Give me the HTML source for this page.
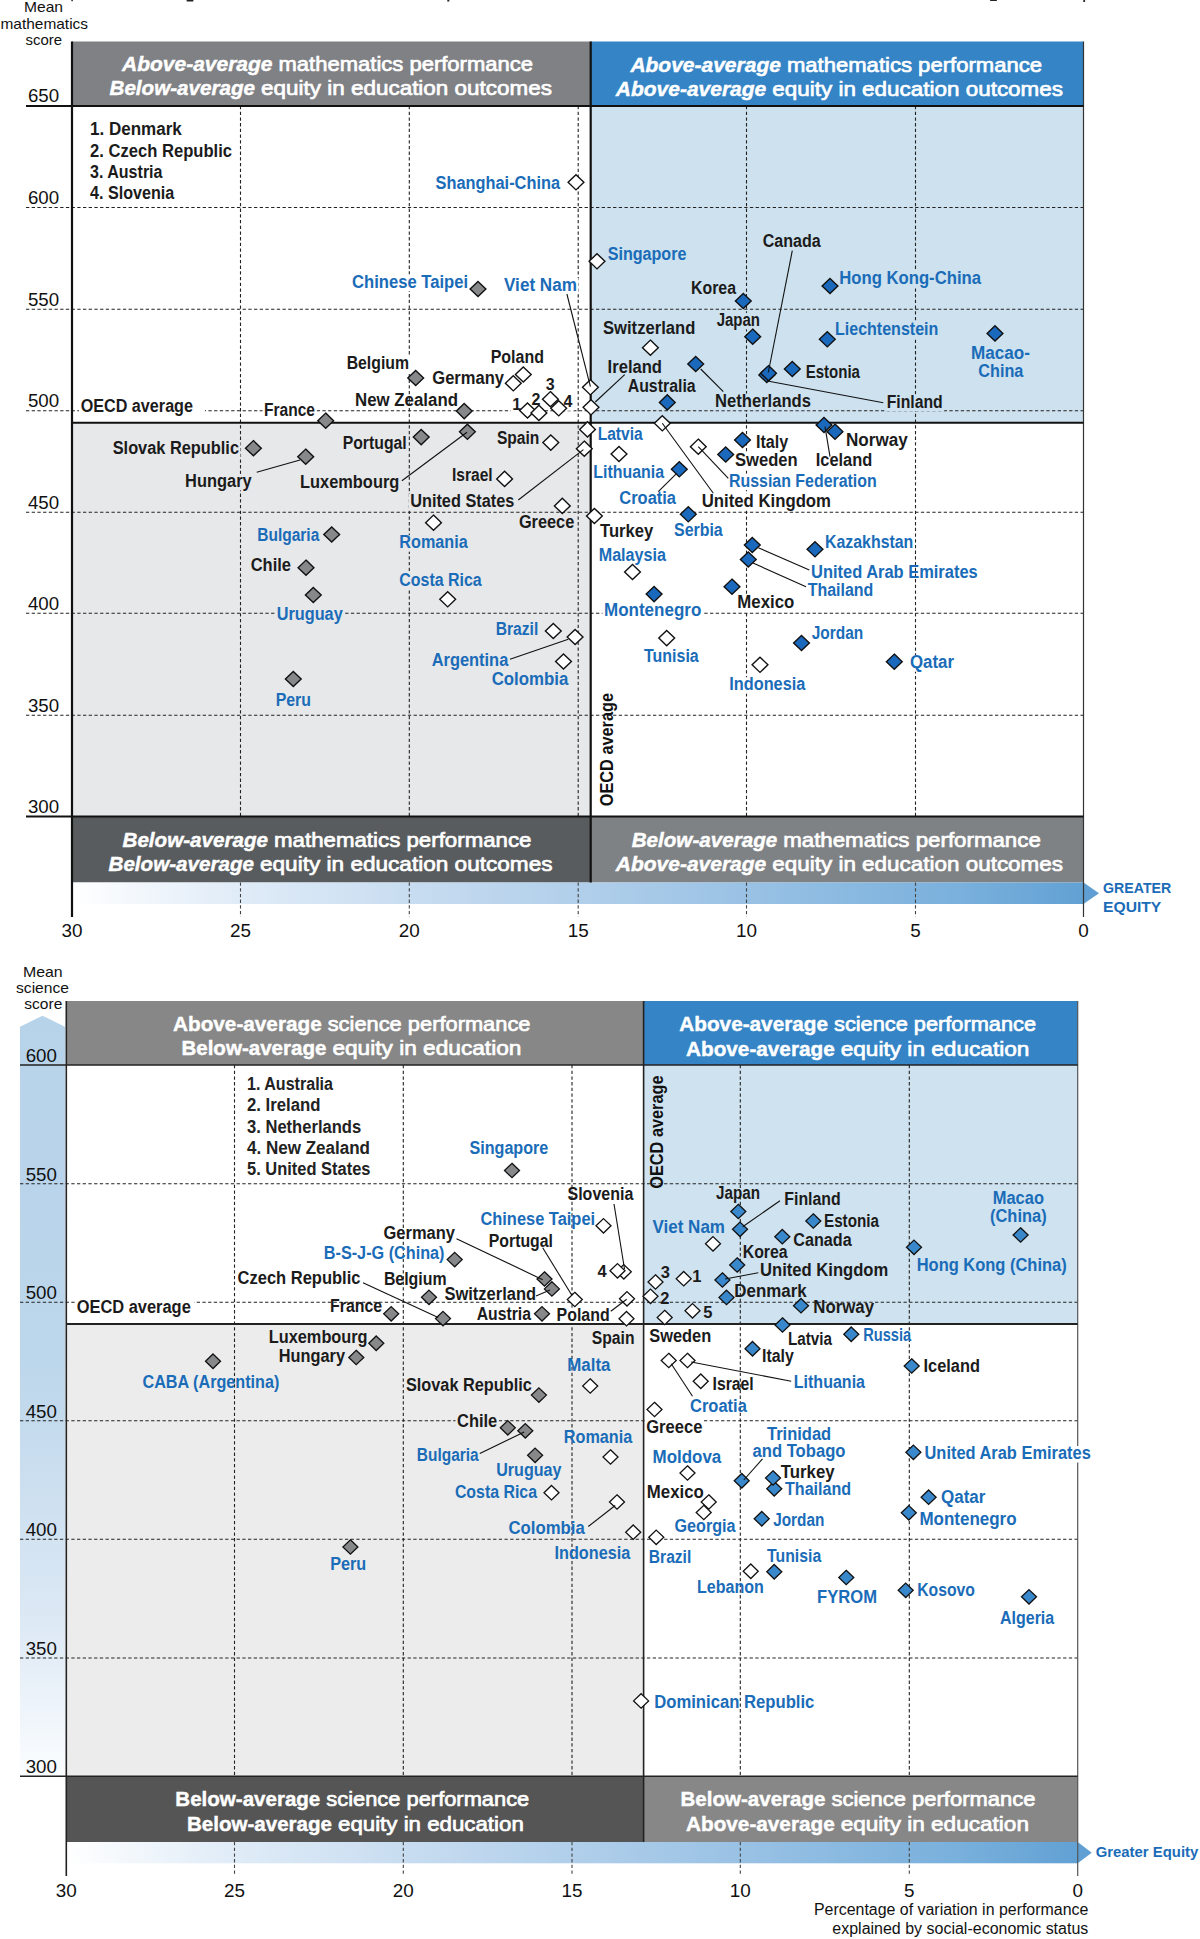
<!DOCTYPE html>
<html><head><meta charset="utf-8"><title>Mathematics and science performance vs equity in education</title>
<style>
html,body{margin:0;padding:0;background:#fff;}
body{width:1200px;height:1939px;overflow:hidden;}
svg{display:block;font-family:"Liberation Sans", sans-serif;}
</style></head><body>
<svg width="1200" height="1939" viewBox="0 0 1200 1939">
<defs>
<linearGradient id="gband" x1="0" x2="1" y1="0" y2="0">
<stop offset="0" stop-color="#ffffff"/><stop offset="0.15" stop-color="#e2edf8"/><stop offset="0.4" stop-color="#bfd7ee"/><stop offset="0.65" stop-color="#9cc3e5"/><stop offset="0.88" stop-color="#79b0dc"/><stop offset="1" stop-color="#62a1d4"/>
</linearGradient>
<linearGradient id="gband2" x1="0" x2="1" y1="0" y2="0">
<stop offset="0" stop-color="#ffffff"/><stop offset="0.15" stop-color="#e2edf8"/><stop offset="0.4" stop-color="#bfd7ee"/><stop offset="0.65" stop-color="#9cc3e5"/><stop offset="0.88" stop-color="#79b0dc"/><stop offset="1" stop-color="#62a1d4"/>
</linearGradient>
<linearGradient id="vband" x1="0" x2="0" y1="0" y2="1">
<stop offset="0" stop-color="#b7d3ea"/><stop offset="0.45" stop-color="#bcd6eb"/><stop offset="0.8" stop-color="#dde9f5"/><stop offset="1" stop-color="#fbfdff"/>
</linearGradient>
</defs>
<rect width="1200" height="1939" fill="#fff"/>
<rect x="72.0" y="106.0" width="518.7" height="316.7" fill="#ffffff"/>
<rect x="590.7" y="106.0" width="492.8" height="316.7" fill="#cde1ee"/>
<rect x="72.0" y="422.7" width="518.7" height="393.8" fill="#e7e8ea"/>
<rect x="590.7" y="422.7" width="492.8" height="393.8" fill="#ffffff"/>
<rect x="72.0" y="41.5" width="518.7" height="64.5" fill="#808185"/>
<rect x="590.7" y="41.5" width="492.8" height="64.5" fill="#3484c6"/>
<rect x="72.0" y="816.5" width="518.7" height="66.0" fill="#595c5e"/>
<rect x="590.7" y="816.5" width="492.8" height="66.0" fill="#7f8285"/>
<rect x="72.0" y="882.5" width="1011.5" height="21.5" fill="url(#gband)"/>
<path d="M1083.5 882.5L1099.0 893.25L1083.5 904.0Z" fill="#5f9fd3"/>
<line x1="26.0" y1="207.5" x2="1083.5" y2="207.5" stroke="#222" stroke-width="1.1" stroke-dasharray="3.3 2.4"/>
<line x1="26.0" y1="309.3" x2="1083.5" y2="309.3" stroke="#222" stroke-width="1.1" stroke-dasharray="3.3 2.4"/>
<line x1="26.0" y1="410.8" x2="1083.5" y2="410.8" stroke="#222" stroke-width="1.1" stroke-dasharray="3.3 2.4"/>
<line x1="26.0" y1="512.3" x2="1083.5" y2="512.3" stroke="#222" stroke-width="1.1" stroke-dasharray="3.3 2.4"/>
<line x1="26.0" y1="613.3" x2="1083.5" y2="613.3" stroke="#222" stroke-width="1.1" stroke-dasharray="3.3 2.4"/>
<line x1="26.0" y1="715.3" x2="1083.5" y2="715.3" stroke="#222" stroke-width="1.1" stroke-dasharray="3.3 2.4"/>
<line x1="240.5" y1="106.0" x2="240.5" y2="816.5" stroke="#222" stroke-width="1.1" stroke-dasharray="3.3 2.4"/>
<line x1="240.5" y1="882.5" x2="240.5" y2="917.0" stroke="#444" stroke-width="1.1" stroke-dasharray="3.3 2.4"/>
<line x1="409.3" y1="106.0" x2="409.3" y2="816.5" stroke="#222" stroke-width="1.1" stroke-dasharray="3.3 2.4"/>
<line x1="409.3" y1="882.5" x2="409.3" y2="917.0" stroke="#444" stroke-width="1.1" stroke-dasharray="3.3 2.4"/>
<line x1="578.2" y1="106.0" x2="578.2" y2="816.5" stroke="#222" stroke-width="1.1" stroke-dasharray="3.3 2.4"/>
<line x1="578.2" y1="882.5" x2="578.2" y2="917.0" stroke="#444" stroke-width="1.1" stroke-dasharray="3.3 2.4"/>
<line x1="746.5" y1="106.0" x2="746.5" y2="816.5" stroke="#222" stroke-width="1.1" stroke-dasharray="3.3 2.4"/>
<line x1="746.5" y1="882.5" x2="746.5" y2="917.0" stroke="#444" stroke-width="1.1" stroke-dasharray="3.3 2.4"/>
<line x1="915.5" y1="106.0" x2="915.5" y2="816.5" stroke="#222" stroke-width="1.1" stroke-dasharray="3.3 2.4"/>
<line x1="915.5" y1="882.5" x2="915.5" y2="917.0" stroke="#444" stroke-width="1.1" stroke-dasharray="3.3 2.4"/>
<line x1="1083.5" y1="41.5" x2="1083.5" y2="917.0" stroke="#333" stroke-width="1.2"/>
<rect x="434.1" y="175.5" width="127.4" height="16.5" fill="#ffffff"/>
<rect x="606.2" y="246.6" width="81.7" height="16.5" fill="#cde1ee"/>
<rect x="350.5" y="274.6" width="119.0" height="16.5" fill="#ffffff"/>
<rect x="502.5" y="277.9" width="76.0" height="16.5" fill="#ffffff"/>
<rect x="601.5" y="321.2" width="95.3" height="16.5" fill="#cde1ee"/>
<rect x="345.2" y="355.9" width="65.3" height="16.5" fill="#ffffff"/>
<rect x="489.2" y="349.9" width="56.3" height="16.5" fill="#ffffff"/>
<rect x="430.8" y="371.2" width="74.7" height="16.5" fill="#ffffff"/>
<rect x="606.1" y="359.9" width="57.4" height="16.5" fill="#cde1ee"/>
<rect x="626.2" y="379.2" width="71.0" height="16.5" fill="#cde1ee"/>
<rect x="262.5" y="402.9" width="54.0" height="16.5" fill="#ffffff"/>
<rect x="510.8" y="396.8" width="12.0" height="16.5" fill="#ffffff"/>
<rect x="529.9" y="391.8" width="12.0" height="16.5" fill="#ffffff"/>
<rect x="544.3" y="377.4" width="12.0" height="16.5" fill="#ffffff"/>
<rect x="561.9" y="394.2" width="12.0" height="16.5" fill="#ffffff"/>
<rect x="761.2" y="233.6" width="61.0" height="16.5" fill="#cde1ee"/>
<rect x="689.5" y="280.9" width="48.0" height="16.5" fill="#cde1ee"/>
<rect x="837.8" y="270.6" width="144.7" height="16.5" fill="#cde1ee"/>
<rect x="715.2" y="312.9" width="46.3" height="16.5" fill="#cde1ee"/>
<rect x="833.5" y="321.9" width="106.3" height="16.5" fill="#cde1ee"/>
<rect x="969.5" y="346.2" width="62.0" height="16.5" fill="#cde1ee"/>
<rect x="976.8" y="363.6" width="48.0" height="16.5" fill="#cde1ee"/>
<rect x="804.2" y="365.2" width="57.3" height="16.5" fill="#cde1ee"/>
<rect x="713.5" y="393.6" width="99.0" height="16.5" fill="#cde1ee"/>
<rect x="885.2" y="394.6" width="59.0" height="16.5" fill="#cde1ee"/>
<rect x="111.2" y="440.6" width="129.3" height="16.5" fill="#e7e8ea"/>
<rect x="183.5" y="473.9" width="69.7" height="16.5" fill="#e7e8ea"/>
<rect x="341.2" y="436.2" width="67.0" height="16.5" fill="#e7e8ea"/>
<rect x="298.5" y="474.6" width="102.3" height="16.5" fill="#e7e8ea"/>
<rect x="495.4" y="431.4" width="45.5" height="16.5" fill="#e7e8ea"/>
<rect x="450.5" y="468.1" width="43.7" height="16.5" fill="#e7e8ea"/>
<rect x="408.7" y="493.8" width="107.1" height="16.5" fill="#e7e8ea"/>
<rect x="517.4" y="514.5" width="58.4" height="16.5" fill="#e7e8ea"/>
<rect x="596.2" y="427.2" width="48.0" height="16.5" fill="#ffffff"/>
<rect x="591.8" y="464.6" width="73.7" height="16.5" fill="#ffffff"/>
<rect x="617.8" y="491.2" width="59.7" height="16.5" fill="#ffffff"/>
<rect x="754.5" y="434.6" width="35.3" height="16.5" fill="#ffffff"/>
<rect x="733.5" y="452.9" width="65.7" height="16.5" fill="#ffffff"/>
<rect x="844.5" y="432.9" width="64.7" height="16.5" fill="#ffffff"/>
<rect x="814.2" y="452.9" width="59.6" height="16.5" fill="#ffffff"/>
<rect x="727.5" y="473.6" width="150.7" height="16.5" fill="#ffffff"/>
<rect x="700.2" y="493.6" width="132.3" height="16.5" fill="#ffffff"/>
<rect x="598.5" y="523.9" width="56.3" height="16.5" fill="#ffffff"/>
<rect x="672.5" y="522.9" width="51.7" height="16.5" fill="#ffffff"/>
<rect x="597.2" y="547.9" width="70.3" height="16.5" fill="#ffffff"/>
<rect x="823.5" y="534.6" width="91.3" height="16.5" fill="#ffffff"/>
<rect x="806.2" y="582.9" width="68.6" height="16.5" fill="#ffffff"/>
<rect x="735.8" y="594.6" width="60.0" height="16.5" fill="#ffffff"/>
<rect x="602.5" y="603.1" width="100.3" height="16.5" fill="#ffffff"/>
<rect x="810.2" y="626.2" width="54.6" height="16.5" fill="#ffffff"/>
<rect x="908.5" y="655.2" width="47.0" height="16.5" fill="#ffffff"/>
<rect x="642.5" y="648.7" width="57.7" height="16.5" fill="#ffffff"/>
<rect x="727.8" y="677.2" width="79.0" height="16.5" fill="#ffffff"/>
<rect x="255.8" y="527.6" width="65.0" height="16.5" fill="#e7e8ea"/>
<rect x="249.2" y="557.9" width="43.3" height="16.5" fill="#e7e8ea"/>
<rect x="275.2" y="606.9" width="69.0" height="16.5" fill="#e7e8ea"/>
<rect x="274.2" y="692.9" width="38.3" height="16.5" fill="#e7e8ea"/>
<rect x="397.8" y="535.2" width="71.4" height="16.5" fill="#e7e8ea"/>
<rect x="397.8" y="572.9" width="85.4" height="16.5" fill="#e7e8ea"/>
<rect x="494.2" y="622.2" width="45.6" height="16.5" fill="#e7e8ea"/>
<rect x="430.2" y="652.9" width="79.6" height="16.5" fill="#e7e8ea"/>
<rect x="490.2" y="672.2" width="79.6" height="16.5" fill="#e7e8ea"/>
<rect x="79.0" y="397.0" width="126.0" height="17.5" fill="#ffffff"/>
<line x1="26.0" y1="106.0" x2="1083.5" y2="106.0" stroke="#111" stroke-width="2"/>
<line x1="26.0" y1="816.5" x2="1083.5" y2="816.5" stroke="#111" stroke-width="2"/>
<line x1="72.0" y1="422.7" x2="1083.5" y2="422.7" stroke="#111" stroke-width="2"/>
<line x1="590.7" y1="41.5" x2="590.7" y2="882.5" stroke="#111" stroke-width="2.2"/>
<line x1="72.0" y1="41.5" x2="72.0" y2="917.0" stroke="#111" stroke-width="2.2"/>
<path d="M576.0 174.7L583.9 182.3L576.0 189.9L568.1 182.3Z" fill="#ffffff" stroke="#111" stroke-width="1.4"/>
<path d="M597.0 253.7L604.9 261.3L597.0 268.9L589.1 261.3Z" fill="#ffffff" stroke="#111" stroke-width="1.4"/>
<path d="M478.0 281.4L485.9 289.0L478.0 296.6L470.1 289.0Z" fill="#86888a" stroke="#111" stroke-width="1.4"/>
<path d="M590.4 379.7L598.3 387.3L590.4 394.9L582.5 387.3Z" fill="#ffffff" stroke="#111" stroke-width="1.4"/>
<path d="M591.0 399.7L598.9 407.3L591.0 414.9L583.1 407.3Z" fill="#ffffff" stroke="#111" stroke-width="1.4"/>
<path d="M650.4 340.1L658.3 347.7L650.4 355.3L642.5 347.7Z" fill="#ffffff" stroke="#111" stroke-width="1.4"/>
<path d="M415.7 370.4L423.6 378.0L415.7 385.6L407.8 378.0Z" fill="#86888a" stroke="#111" stroke-width="1.4"/>
<path d="M523.3 366.9L531.2 374.5L523.3 382.1L515.4 374.5Z" fill="#ffffff" stroke="#111" stroke-width="1.4"/>
<path d="M513.3 375.7L521.2 383.3L513.3 390.9L505.4 383.3Z" fill="#ffffff" stroke="#111" stroke-width="1.4"/>
<path d="M550.4 391.6L558.3 399.2L550.4 406.8L542.5 399.2Z" fill="#ffffff" stroke="#111" stroke-width="1.4"/>
<path d="M527.5 402.9L535.4 410.5L527.5 418.1L519.6 410.5Z" fill="#ffffff" stroke="#111" stroke-width="1.4"/>
<path d="M538.9 405.3L546.8 412.9L538.9 420.5L531.0 412.9Z" fill="#ffffff" stroke="#111" stroke-width="1.4"/>
<path d="M558.7 400.7L566.6 408.3L558.7 415.9L550.8 408.3Z" fill="#ffffff" stroke="#111" stroke-width="1.4"/>
<path d="M464.2 403.5L472.1 411.1L464.2 418.7L456.4 411.1Z" fill="#86888a" stroke="#111" stroke-width="1.4"/>
<path d="M325.7 413.1L333.6 420.7L325.7 428.3L317.8 420.7Z" fill="#86888a" stroke="#111" stroke-width="1.4"/>
<path d="M667.3 394.8L675.2 402.4L667.3 410.0L659.4 402.4Z" fill="#1b69bc" stroke="#111" stroke-width="1.4"/>
<path d="M695.7 356.4L703.6 364.0L695.7 371.6L687.8 364.0Z" fill="#1b69bc" stroke="#111" stroke-width="1.4"/>
<path d="M743.3 293.4L751.2 301.0L743.3 308.6L735.4 301.0Z" fill="#1b69bc" stroke="#111" stroke-width="1.4"/>
<path d="M830.0 278.4L837.9 286.0L830.0 293.6L822.1 286.0Z" fill="#1b69bc" stroke="#111" stroke-width="1.4"/>
<path d="M752.7 329.1L760.6 336.7L752.7 344.3L744.8 336.7Z" fill="#1b69bc" stroke="#111" stroke-width="1.4"/>
<path d="M827.3 331.7L835.2 339.3L827.3 346.9L819.4 339.3Z" fill="#1b69bc" stroke="#111" stroke-width="1.4"/>
<path d="M995.0 325.8L1002.9 333.4L995.0 341.0L987.1 333.4Z" fill="#1b69bc" stroke="#111" stroke-width="1.4"/>
<path d="M766.8 367.4L774.7 375.0L766.8 382.6L758.9 375.0Z" fill="#1b69bc" stroke="#111" stroke-width="1.4"/>
<path d="M768.5 365.6L776.4 373.2L768.5 380.8L760.6 373.2Z" fill="#1b69bc" stroke="#111" stroke-width="1.4"/>
<path d="M792.3 361.4L800.2 369.0L792.3 376.6L784.4 369.0Z" fill="#1b69bc" stroke="#111" stroke-width="1.4"/>
<path d="M824.0 417.4L831.9 425.0L824.0 432.6L816.1 425.0Z" fill="#1b69bc" stroke="#111" stroke-width="1.4"/>
<path d="M835.0 424.1L842.9 431.7L835.0 439.3L827.1 431.7Z" fill="#1b69bc" stroke="#111" stroke-width="1.4"/>
<path d="M742.5 432.4L750.4 440.0L742.5 447.6L734.6 440.0Z" fill="#1b69bc" stroke="#111" stroke-width="1.4"/>
<path d="M725.7 446.9L733.6 454.5L725.7 462.1L717.8 454.5Z" fill="#1b69bc" stroke="#111" stroke-width="1.4"/>
<path d="M679.3 461.7L687.2 469.3L679.3 476.9L671.4 469.3Z" fill="#1b69bc" stroke="#111" stroke-width="1.4"/>
<path d="M688.3 506.7L696.2 514.3L688.3 521.9L680.4 514.3Z" fill="#1b69bc" stroke="#111" stroke-width="1.4"/>
<path d="M662.3 415.7L670.2 423.3L662.3 430.9L654.4 423.3Z" fill="#ffffff" stroke="#111" stroke-width="1.4"/>
<path d="M698.3 439.1L706.2 446.7L698.3 454.3L690.4 446.7Z" fill="#ffffff" stroke="#111" stroke-width="1.4"/>
<path d="M587.5 421.8L595.4 429.4L587.5 437.0L579.6 429.4Z" fill="#ffffff" stroke="#111" stroke-width="1.4"/>
<path d="M619.0 446.4L626.9 454.0L619.0 461.6L611.1 454.0Z" fill="#ffffff" stroke="#111" stroke-width="1.4"/>
<path d="M584.3 441.1L592.2 448.7L584.3 456.3L576.4 448.7Z" fill="#ffffff" stroke="#111" stroke-width="1.4"/>
<path d="M550.8 435.0L558.7 442.6L550.8 450.2L542.9 442.6Z" fill="#ffffff" stroke="#111" stroke-width="1.4"/>
<path d="M504.6 471.3L512.5 478.9L504.6 486.5L496.7 478.9Z" fill="#ffffff" stroke="#111" stroke-width="1.4"/>
<path d="M562.3 498.3L570.2 505.9L562.3 513.5L554.4 505.9Z" fill="#ffffff" stroke="#111" stroke-width="1.4"/>
<path d="M594.4 508.4L602.3 516.0L594.4 523.6L586.5 516.0Z" fill="#ffffff" stroke="#111" stroke-width="1.4"/>
<path d="M433.5 515.1L441.4 522.7L433.5 530.3L425.6 522.7Z" fill="#ffffff" stroke="#111" stroke-width="1.4"/>
<path d="M632.5 564.4L640.4 572.0L632.5 579.6L624.6 572.0Z" fill="#ffffff" stroke="#111" stroke-width="1.4"/>
<path d="M654.1 586.5L662.0 594.1L654.1 601.7L646.2 594.1Z" fill="#1b69bc" stroke="#111" stroke-width="1.4"/>
<path d="M732.0 579.1L739.9 586.7L732.0 594.3L724.1 586.7Z" fill="#1b69bc" stroke="#111" stroke-width="1.4"/>
<path d="M752.3 537.4L760.2 545.0L752.3 552.6L744.4 545.0Z" fill="#1b69bc" stroke="#111" stroke-width="1.4"/>
<path d="M748.3 551.9L756.2 559.5L748.3 567.1L740.4 559.5Z" fill="#1b69bc" stroke="#111" stroke-width="1.4"/>
<path d="M815.0 541.7L822.9 549.3L815.0 556.9L807.1 549.3Z" fill="#1b69bc" stroke="#111" stroke-width="1.4"/>
<path d="M801.5 635.4L809.4 643.0L801.5 650.6L793.6 643.0Z" fill="#1b69bc" stroke="#111" stroke-width="1.4"/>
<path d="M894.3 654.1L902.2 661.7L894.3 669.3L886.4 661.7Z" fill="#1b69bc" stroke="#111" stroke-width="1.4"/>
<path d="M666.7 630.5L674.6 638.1L666.7 645.7L658.8 638.1Z" fill="#ffffff" stroke="#111" stroke-width="1.4"/>
<path d="M760.0 657.2L767.9 664.8L760.0 672.4L752.1 664.8Z" fill="#ffffff" stroke="#111" stroke-width="1.4"/>
<path d="M253.4 440.6L261.3 448.2L253.4 455.8L245.5 448.2Z" fill="#86888a" stroke="#111" stroke-width="1.4"/>
<path d="M305.7 449.1L313.6 456.7L305.7 464.3L297.8 456.7Z" fill="#86888a" stroke="#111" stroke-width="1.4"/>
<path d="M421.2 429.5L429.1 437.1L421.2 444.7L413.3 437.1Z" fill="#86888a" stroke="#111" stroke-width="1.4"/>
<path d="M467.4 424.2L475.3 431.8L467.4 439.4L459.5 431.8Z" fill="#86888a" stroke="#111" stroke-width="1.4"/>
<path d="M331.7 526.9L339.6 534.5L331.7 542.1L323.8 534.5Z" fill="#86888a" stroke="#111" stroke-width="1.4"/>
<path d="M306.0 560.1L313.9 567.7L306.0 575.3L298.1 567.7Z" fill="#86888a" stroke="#111" stroke-width="1.4"/>
<path d="M313.3 587.4L321.2 595.0L313.3 602.6L305.4 595.0Z" fill="#86888a" stroke="#111" stroke-width="1.4"/>
<path d="M293.3 671.4L301.2 679.0L293.3 686.6L285.4 679.0Z" fill="#86888a" stroke="#111" stroke-width="1.4"/>
<path d="M447.7 591.7L455.6 599.3L447.7 606.9L439.8 599.3Z" fill="#ffffff" stroke="#111" stroke-width="1.4"/>
<path d="M553.3 623.4L561.2 631.0L553.3 638.6L545.4 631.0Z" fill="#ffffff" stroke="#111" stroke-width="1.4"/>
<path d="M575.1 629.4L583.0 637.0L575.1 644.6L567.2 637.0Z" fill="#ffffff" stroke="#111" stroke-width="1.4"/>
<path d="M563.5 653.9L571.4 661.5L563.5 669.1L555.6 661.5Z" fill="#ffffff" stroke="#111" stroke-width="1.4"/>
<line x1="566.9" y1="294.0" x2="590.4" y2="386.7" stroke="#111" stroke-width="1.1"/>
<line x1="624.7" y1="374.7" x2="595.3" y2="402.0" stroke="#111" stroke-width="1.1"/>
<line x1="792.3" y1="250.7" x2="768.3" y2="372.5" stroke="#111" stroke-width="1.1"/>
<line x1="700.7" y1="369.0" x2="723.3" y2="391.7" stroke="#111" stroke-width="1.1"/>
<line x1="767.5" y1="381.0" x2="883.3" y2="402.7" stroke="#111" stroke-width="1.1"/>
<line x1="256.7" y1="472.3" x2="300.0" y2="460.0" stroke="#111" stroke-width="1.1"/>
<line x1="401.9" y1="480.8" x2="467.0" y2="432.2" stroke="#111" stroke-width="1.1"/>
<line x1="518.3" y1="500.0" x2="583.4" y2="449.6" stroke="#111" stroke-width="1.1"/>
<line x1="662.3" y1="423.3" x2="713.3" y2="493.3" stroke="#111" stroke-width="1.1"/>
<line x1="698.3" y1="446.7" x2="728.3" y2="478.3" stroke="#111" stroke-width="1.1"/>
<line x1="658.3" y1="491.7" x2="676.7" y2="473.3" stroke="#111" stroke-width="1.1"/>
<line x1="825.0" y1="426.7" x2="830.0" y2="456.7" stroke="#111" stroke-width="1.1"/>
<line x1="758.3" y1="547.7" x2="809.3" y2="570.0" stroke="#111" stroke-width="1.1"/>
<line x1="753.0" y1="563.0" x2="806.0" y2="586.7" stroke="#111" stroke-width="1.1"/>
<line x1="510.0" y1="659.3" x2="568.3" y2="639.3" stroke="#111" stroke-width="1.1"/>
<text x="27.9" y="102.4" fill="#111" font-size="18" textLength="31.2" lengthAdjust="spacingAndGlyphs">650</text>
<text x="27.9" y="203.9" fill="#111" font-size="18" textLength="31.2" lengthAdjust="spacingAndGlyphs">600</text>
<text x="27.9" y="305.7" fill="#111" font-size="18" textLength="31.2" lengthAdjust="spacingAndGlyphs">550</text>
<text x="27.9" y="407.2" fill="#111" font-size="18" textLength="31.2" lengthAdjust="spacingAndGlyphs">500</text>
<text x="27.9" y="508.7" fill="#111" font-size="18" textLength="31.2" lengthAdjust="spacingAndGlyphs">450</text>
<text x="27.9" y="609.7" fill="#111" font-size="18" textLength="31.2" lengthAdjust="spacingAndGlyphs">400</text>
<text x="27.9" y="711.7" fill="#111" font-size="18" textLength="31.2" lengthAdjust="spacingAndGlyphs">350</text>
<text x="27.9" y="812.9" fill="#111" font-size="18" textLength="31.2" lengthAdjust="spacingAndGlyphs">300</text>
<text x="61.5" y="937.0" fill="#111" font-size="18" textLength="21.0" lengthAdjust="spacingAndGlyphs">30</text>
<text x="230.0" y="937.0" fill="#111" font-size="18" textLength="21.0" lengthAdjust="spacingAndGlyphs">25</text>
<text x="398.8" y="937.0" fill="#111" font-size="18" textLength="21.0" lengthAdjust="spacingAndGlyphs">20</text>
<text x="567.7" y="937.0" fill="#111" font-size="18" textLength="21.0" lengthAdjust="spacingAndGlyphs">15</text>
<text x="736.0" y="937.0" fill="#111" font-size="18" textLength="21.0" lengthAdjust="spacingAndGlyphs">10</text>
<text x="910.2" y="937.0" fill="#111" font-size="18" textLength="10.5" lengthAdjust="spacingAndGlyphs">5</text>
<text x="1078.2" y="937.0" fill="#111" font-size="18" textLength="10.5" lengthAdjust="spacingAndGlyphs">0</text>
<text x="24.0" y="12.3" fill="#111" font-size="15" textLength="39.0" lengthAdjust="spacingAndGlyphs">Mean</text>
<text x="0.5" y="28.5" fill="#111" font-size="15" textLength="87.5" lengthAdjust="spacingAndGlyphs">mathematics</text>
<text x="25.5" y="44.5" fill="#111" font-size="15" textLength="36.5" lengthAdjust="spacingAndGlyphs">score</text>
<text y="71.0" fill="#fff" font-size="21"><tspan x="122.0" font-weight="bold" font-style="italic" stroke="#fff" stroke-width="0.45" textLength="150.5" lengthAdjust="spacingAndGlyphs">Above-average</tspan><tspan x="278.5" font-weight="normal" stroke="#fff" stroke-width="0.7" textLength="254.5" lengthAdjust="spacingAndGlyphs">mathematics performance</tspan></text>
<text y="94.8" fill="#fff" font-size="21"><tspan x="109.5" font-weight="bold" font-style="italic" stroke="#fff" stroke-width="0.45" textLength="145.5" lengthAdjust="spacingAndGlyphs">Below-average</tspan><tspan x="261.0" font-weight="normal" stroke="#fff" stroke-width="0.7" textLength="291.0" lengthAdjust="spacingAndGlyphs">equity in education outcomes</tspan></text>
<text y="71.5" fill="#fff" font-size="21"><tspan x="630.4" font-weight="bold" font-style="italic" stroke="#fff" stroke-width="0.45" textLength="150.5" lengthAdjust="spacingAndGlyphs">Above-average</tspan><tspan x="786.9" font-weight="normal" stroke="#fff" stroke-width="0.7" textLength="255.1" lengthAdjust="spacingAndGlyphs">mathematics performance</tspan></text>
<text y="95.7" fill="#fff" font-size="21"><tspan x="615.8" font-weight="bold" font-style="italic" stroke="#fff" stroke-width="0.45" textLength="150.5" lengthAdjust="spacingAndGlyphs">Above-average</tspan><tspan x="772.3" font-weight="normal" stroke="#fff" stroke-width="0.7" textLength="290.7" lengthAdjust="spacingAndGlyphs">equity in education outcomes</tspan></text>
<text y="846.5" fill="#fff" font-size="21"><tspan x="122.5" font-weight="bold" font-style="italic" stroke="#fff" stroke-width="0.45" textLength="145.5" lengthAdjust="spacingAndGlyphs">Below-average</tspan><tspan x="274.0" font-weight="normal" stroke="#fff" stroke-width="0.7" textLength="257.5" lengthAdjust="spacingAndGlyphs">mathematics performance</tspan></text>
<text y="870.7" fill="#fff" font-size="21"><tspan x="108.5" font-weight="bold" font-style="italic" stroke="#fff" stroke-width="0.45" textLength="145.5" lengthAdjust="spacingAndGlyphs">Below-average</tspan><tspan x="260.0" font-weight="normal" stroke="#fff" stroke-width="0.7" textLength="292.5" lengthAdjust="spacingAndGlyphs">equity in education outcomes</tspan></text>
<text y="846.7" fill="#fff" font-size="21"><tspan x="631.7" font-weight="bold" font-style="italic" stroke="#fff" stroke-width="0.45" textLength="145.5" lengthAdjust="spacingAndGlyphs">Below-average</tspan><tspan x="783.2" font-weight="normal" stroke="#fff" stroke-width="0.7" textLength="257.6" lengthAdjust="spacingAndGlyphs">mathematics performance</tspan></text>
<text y="870.9" fill="#fff" font-size="21"><tspan x="615.8" font-weight="bold" font-style="italic" stroke="#fff" stroke-width="0.45" textLength="150.5" lengthAdjust="spacingAndGlyphs">Above-average</tspan><tspan x="772.3" font-weight="normal" stroke="#fff" stroke-width="0.7" textLength="290.7" lengthAdjust="spacingAndGlyphs">equity in education outcomes</tspan></text>
<text x="1103.0" y="893.3" fill="#1a6cb8" font-size="15.5" font-weight="bold" textLength="68.3" lengthAdjust="spacingAndGlyphs">GREATER</text>
<text x="1103.0" y="912.0" fill="#1a6cb8" font-size="15.5" font-weight="bold" textLength="58.3" lengthAdjust="spacingAndGlyphs">EQUITY</text>
<text x="90.0" y="135.3" fill="#1b1b1b" font-size="17.5" font-weight="bold" textLength="91.8" lengthAdjust="spacingAndGlyphs">1. Denmark</text>
<text x="90.0" y="156.5" fill="#1b1b1b" font-size="17.5" font-weight="bold" textLength="142.0" lengthAdjust="spacingAndGlyphs">2. Czech Republic</text>
<text x="90.0" y="177.8" fill="#1b1b1b" font-size="17.5" font-weight="bold" textLength="72.5" lengthAdjust="spacingAndGlyphs">3. Austria</text>
<text x="90.0" y="199.0" fill="#1b1b1b" font-size="17.5" font-weight="bold" textLength="84.2" lengthAdjust="spacingAndGlyphs">4. Slovenia</text>
<text x="435.6" y="188.5" fill="#1a6cb8" font-size="17.5" font-weight="bold" textLength="124.4" lengthAdjust="spacingAndGlyphs">Shanghai-China</text>
<text x="607.7" y="259.6" fill="#1a6cb8" font-size="17.5" font-weight="bold" textLength="78.7" lengthAdjust="spacingAndGlyphs">Singapore</text>
<text x="352.0" y="287.6" fill="#1a6cb8" font-size="17.5" font-weight="bold" textLength="116.0" lengthAdjust="spacingAndGlyphs">Chinese Taipei</text>
<text x="504.0" y="290.9" fill="#1a6cb8" font-size="17.5" font-weight="bold" textLength="73.0" lengthAdjust="spacingAndGlyphs">Viet Nam</text>
<text x="603.0" y="334.2" fill="#1b1b1b" font-size="17.5" font-weight="bold" textLength="92.3" lengthAdjust="spacingAndGlyphs">Switzerland</text>
<text x="346.7" y="368.9" fill="#1b1b1b" font-size="17.5" font-weight="bold" textLength="62.3" lengthAdjust="spacingAndGlyphs">Belgium</text>
<text x="490.7" y="362.9" fill="#1b1b1b" font-size="17.5" font-weight="bold" textLength="53.3" lengthAdjust="spacingAndGlyphs">Poland</text>
<text x="432.3" y="384.2" fill="#1b1b1b" font-size="17.5" font-weight="bold" textLength="71.7" lengthAdjust="spacingAndGlyphs">Germany</text>
<text x="607.6" y="372.9" fill="#1b1b1b" font-size="17.5" font-weight="bold" textLength="54.4" lengthAdjust="spacingAndGlyphs">Ireland</text>
<text x="627.7" y="392.2" fill="#1b1b1b" font-size="17.5" font-weight="bold" textLength="68.0" lengthAdjust="spacingAndGlyphs">Australia</text>
<text x="355.0" y="405.9" fill="#1b1b1b" font-size="17.5" font-weight="bold" textLength="103.0" lengthAdjust="spacingAndGlyphs">New Zealand</text>
<text x="264.0" y="415.9" fill="#1b1b1b" font-size="17.5" font-weight="bold" textLength="51.0" lengthAdjust="spacingAndGlyphs">France</text>
<text x="512.3" y="409.8" fill="#1b1b1b" font-size="16" font-weight="bold">1</text>
<text x="531.4" y="404.8" fill="#1b1b1b" font-size="16" font-weight="bold">2</text>
<text x="545.8" y="390.4" fill="#1b1b1b" font-size="16" font-weight="bold">3</text>
<text x="563.4" y="407.2" fill="#1b1b1b" font-size="16" font-weight="bold">4</text>
<text x="762.7" y="246.6" fill="#1b1b1b" font-size="17.5" font-weight="bold" textLength="58.0" lengthAdjust="spacingAndGlyphs">Canada</text>
<text x="691.0" y="293.9" fill="#1b1b1b" font-size="17.5" font-weight="bold" textLength="45.0" lengthAdjust="spacingAndGlyphs">Korea</text>
<text x="839.3" y="283.6" fill="#1a6cb8" font-size="17.5" font-weight="bold" textLength="141.7" lengthAdjust="spacingAndGlyphs">Hong Kong-China</text>
<text x="716.7" y="325.9" fill="#1b1b1b" font-size="17.5" font-weight="bold" textLength="43.3" lengthAdjust="spacingAndGlyphs">Japan</text>
<text x="835.0" y="334.9" fill="#1a6cb8" font-size="17.5" font-weight="bold" textLength="103.3" lengthAdjust="spacingAndGlyphs">Liechtenstein</text>
<text x="971.0" y="359.2" fill="#1a6cb8" font-size="17.5" font-weight="bold" textLength="59.0" lengthAdjust="spacingAndGlyphs">Macao-</text>
<text x="978.3" y="376.6" fill="#1a6cb8" font-size="17.5" font-weight="bold" textLength="45.0" lengthAdjust="spacingAndGlyphs">China</text>
<text x="805.7" y="378.2" fill="#1b1b1b" font-size="17.5" font-weight="bold" textLength="54.3" lengthAdjust="spacingAndGlyphs">Estonia</text>
<text x="715.0" y="406.6" fill="#1b1b1b" font-size="17.5" font-weight="bold" textLength="96.0" lengthAdjust="spacingAndGlyphs">Netherlands</text>
<text x="886.7" y="407.6" fill="#1b1b1b" font-size="17.5" font-weight="bold" textLength="56.0" lengthAdjust="spacingAndGlyphs">Finland</text>
<text x="112.7" y="453.6" fill="#1b1b1b" font-size="17.5" font-weight="bold" textLength="126.3" lengthAdjust="spacingAndGlyphs">Slovak Republic</text>
<text x="185.0" y="486.9" fill="#1b1b1b" font-size="17.5" font-weight="bold" textLength="66.7" lengthAdjust="spacingAndGlyphs">Hungary</text>
<text x="342.7" y="449.2" fill="#1b1b1b" font-size="17.5" font-weight="bold" textLength="64.0" lengthAdjust="spacingAndGlyphs">Portugal</text>
<text x="300.0" y="487.6" fill="#1b1b1b" font-size="17.5" font-weight="bold" textLength="99.3" lengthAdjust="spacingAndGlyphs">Luxembourg</text>
<text x="496.9" y="444.4" fill="#1b1b1b" font-size="17.5" font-weight="bold" textLength="42.5" lengthAdjust="spacingAndGlyphs">Spain</text>
<text x="452.0" y="481.1" fill="#1b1b1b" font-size="17.5" font-weight="bold" textLength="40.7" lengthAdjust="spacingAndGlyphs">Israel</text>
<text x="410.2" y="506.8" fill="#1b1b1b" font-size="17.5" font-weight="bold" textLength="104.1" lengthAdjust="spacingAndGlyphs">United States</text>
<text x="518.9" y="527.5" fill="#1b1b1b" font-size="17.5" font-weight="bold" textLength="55.4" lengthAdjust="spacingAndGlyphs">Greece</text>
<text x="597.7" y="440.2" fill="#1a6cb8" font-size="17.5" font-weight="bold" textLength="45.0" lengthAdjust="spacingAndGlyphs">Latvia</text>
<text x="593.3" y="477.6" fill="#1a6cb8" font-size="17.5" font-weight="bold" textLength="70.7" lengthAdjust="spacingAndGlyphs">Lithuania</text>
<text x="619.3" y="504.2" fill="#1a6cb8" font-size="17.5" font-weight="bold" textLength="56.7" lengthAdjust="spacingAndGlyphs">Croatia</text>
<text x="756.0" y="447.6" fill="#1b1b1b" font-size="17.5" font-weight="bold" textLength="32.3" lengthAdjust="spacingAndGlyphs">Italy</text>
<text x="735.0" y="465.9" fill="#1b1b1b" font-size="17.5" font-weight="bold" textLength="62.7" lengthAdjust="spacingAndGlyphs">Sweden</text>
<text x="846.0" y="445.9" fill="#1b1b1b" font-size="17.5" font-weight="bold" textLength="61.7" lengthAdjust="spacingAndGlyphs">Norway</text>
<text x="815.7" y="465.9" fill="#1b1b1b" font-size="17.5" font-weight="bold" textLength="56.6" lengthAdjust="spacingAndGlyphs">Iceland</text>
<text x="729.0" y="486.6" fill="#1a6cb8" font-size="17.5" font-weight="bold" textLength="147.7" lengthAdjust="spacingAndGlyphs">Russian Federation</text>
<text x="701.7" y="506.6" fill="#1b1b1b" font-size="17.5" font-weight="bold" textLength="129.3" lengthAdjust="spacingAndGlyphs">United Kingdom</text>
<text x="600.0" y="536.9" fill="#1b1b1b" font-size="17.5" font-weight="bold" textLength="53.3" lengthAdjust="spacingAndGlyphs">Turkey</text>
<text x="674.0" y="535.9" fill="#1a6cb8" font-size="17.5" font-weight="bold" textLength="48.7" lengthAdjust="spacingAndGlyphs">Serbia</text>
<text x="598.7" y="560.9" fill="#1a6cb8" font-size="17.5" font-weight="bold" textLength="67.3" lengthAdjust="spacingAndGlyphs">Malaysia</text>
<text x="825.0" y="547.6" fill="#1a6cb8" font-size="17.5" font-weight="bold" textLength="88.3" lengthAdjust="spacingAndGlyphs">Kazakhstan</text>
<text x="811.0" y="578.2" fill="#1a6cb8" font-size="17.5" font-weight="bold" textLength="166.7" lengthAdjust="spacingAndGlyphs">United Arab Emirates</text>
<text x="807.7" y="595.9" fill="#1a6cb8" font-size="17.5" font-weight="bold" textLength="65.6" lengthAdjust="spacingAndGlyphs">Thailand</text>
<text x="737.3" y="607.6" fill="#1b1b1b" font-size="17.5" font-weight="bold" textLength="57.0" lengthAdjust="spacingAndGlyphs">Mexico</text>
<text x="604.0" y="616.1" fill="#1a6cb8" font-size="17.5" font-weight="bold" textLength="97.3" lengthAdjust="spacingAndGlyphs">Montenegro</text>
<text x="811.7" y="639.2" fill="#1a6cb8" font-size="17.5" font-weight="bold" textLength="51.6" lengthAdjust="spacingAndGlyphs">Jordan</text>
<text x="910.0" y="668.2" fill="#1a6cb8" font-size="17.5" font-weight="bold" textLength="44.0" lengthAdjust="spacingAndGlyphs">Qatar</text>
<text x="644.0" y="661.7" fill="#1a6cb8" font-size="17.5" font-weight="bold" textLength="54.7" lengthAdjust="spacingAndGlyphs">Tunisia</text>
<text x="729.3" y="690.2" fill="#1a6cb8" font-size="17.5" font-weight="bold" textLength="76.0" lengthAdjust="spacingAndGlyphs">Indonesia</text>
<text x="257.3" y="540.6" fill="#1a6cb8" font-size="17.5" font-weight="bold" textLength="62.0" lengthAdjust="spacingAndGlyphs">Bulgaria</text>
<text x="250.7" y="570.9" fill="#1b1b1b" font-size="17.5" font-weight="bold" textLength="40.3" lengthAdjust="spacingAndGlyphs">Chile</text>
<text x="276.7" y="619.9" fill="#1a6cb8" font-size="17.5" font-weight="bold" textLength="66.0" lengthAdjust="spacingAndGlyphs">Uruguay</text>
<text x="275.7" y="705.9" fill="#1a6cb8" font-size="17.5" font-weight="bold" textLength="35.3" lengthAdjust="spacingAndGlyphs">Peru</text>
<text x="399.3" y="548.2" fill="#1a6cb8" font-size="17.5" font-weight="bold" textLength="68.4" lengthAdjust="spacingAndGlyphs">Romania</text>
<text x="399.3" y="585.9" fill="#1a6cb8" font-size="17.5" font-weight="bold" textLength="82.4" lengthAdjust="spacingAndGlyphs">Costa Rica</text>
<text x="495.7" y="635.2" fill="#1a6cb8" font-size="17.5" font-weight="bold" textLength="42.6" lengthAdjust="spacingAndGlyphs">Brazil</text>
<text x="431.7" y="665.9" fill="#1a6cb8" font-size="17.5" font-weight="bold" textLength="76.6" lengthAdjust="spacingAndGlyphs">Argentina</text>
<text x="491.7" y="685.2" fill="#1a6cb8" font-size="17.5" font-weight="bold" textLength="76.6" lengthAdjust="spacingAndGlyphs">Colombia</text>
<text x="80.7" y="411.7" fill="#1b1b1b" font-size="17.5" font-weight="bold" textLength="112.3" lengthAdjust="spacingAndGlyphs">OECD average</text>
<text x="0" y="0" transform="translate(613.3,806.3) rotate(-90)" fill="#111" font-size="17.5" font-weight="bold" textLength="113.4" lengthAdjust="spacingAndGlyphs">OECD average</text>
<rect x="71.2" y="0" width="1.8" height="1.2" rx="0.6" fill="#222"/>
<rect x="186.5" y="0" width="7" height="1.4" rx="0.6" fill="#222"/>
<rect x="447.2" y="0" width="2.2" height="1.6" rx="0.6" fill="#222"/>
<rect x="990" y="0" width="7" height="1.1" rx="0.6" fill="#222"/>
<rect x="1083.3" y="0" width="1.8" height="2.0" rx="0.6" fill="#222"/>
<path d="M20 1026.7L42.5 1015.7L65 1026.7L65 1776.3L20 1776.3Z" fill="url(#vband)"/>
<rect x="66.3" y="1065.0" width="577.3" height="259.0" fill="#ffffff"/>
<rect x="643.6" y="1065.0" width="434.1" height="259.0" fill="#cfe2ef"/>
<rect x="66.3" y="1324.0" width="577.3" height="452.3" fill="#ececec"/>
<rect x="643.6" y="1324.0" width="434.1" height="452.3" fill="#ffffff"/>
<rect x="66.3" y="1001.0" width="577.3" height="64.0" fill="#878787"/>
<rect x="643.6" y="1001.0" width="434.1" height="64.0" fill="#3484c6"/>
<rect x="66.3" y="1776.3" width="577.3" height="65.7" fill="#555555"/>
<rect x="643.6" y="1776.3" width="434.1" height="65.7" fill="#878787"/>
<rect x="66.3" y="1842.0" width="1011.4000000000001" height="21.299999999999955" fill="url(#gband2)"/>
<path d="M1077.7 1842.0L1091.7 1852.65L1077.7 1863.3Z" fill="#5f9fd3"/>
<line x1="20.0" y1="1183.7" x2="1077.7" y2="1183.7" stroke="#222" stroke-width="1.1" stroke-dasharray="3.3 2.4"/>
<line x1="20.0" y1="1302.3" x2="1077.7" y2="1302.3" stroke="#222" stroke-width="1.1" stroke-dasharray="3.3 2.4"/>
<line x1="20.0" y1="1420.8" x2="1077.7" y2="1420.8" stroke="#222" stroke-width="1.1" stroke-dasharray="3.3 2.4"/>
<line x1="20.0" y1="1539.3" x2="1077.7" y2="1539.3" stroke="#222" stroke-width="1.1" stroke-dasharray="3.3 2.4"/>
<line x1="20.0" y1="1658.0" x2="1077.7" y2="1658.0" stroke="#222" stroke-width="1.1" stroke-dasharray="3.3 2.4"/>
<line x1="234.5" y1="1065.0" x2="234.5" y2="1776.3" stroke="#222" stroke-width="1.1" stroke-dasharray="3.3 2.4"/>
<line x1="234.5" y1="1842.0" x2="234.5" y2="1876.0" stroke="#444" stroke-width="1.1" stroke-dasharray="3.3 2.4"/>
<line x1="403.3" y1="1065.0" x2="403.3" y2="1776.3" stroke="#222" stroke-width="1.1" stroke-dasharray="3.3 2.4"/>
<line x1="403.3" y1="1842.0" x2="403.3" y2="1876.0" stroke="#444" stroke-width="1.1" stroke-dasharray="3.3 2.4"/>
<line x1="572.0" y1="1065.0" x2="572.0" y2="1776.3" stroke="#222" stroke-width="1.1" stroke-dasharray="3.3 2.4"/>
<line x1="572.0" y1="1842.0" x2="572.0" y2="1876.0" stroke="#444" stroke-width="1.1" stroke-dasharray="3.3 2.4"/>
<line x1="740.3" y1="1065.0" x2="740.3" y2="1776.3" stroke="#222" stroke-width="1.1" stroke-dasharray="3.3 2.4"/>
<line x1="740.3" y1="1842.0" x2="740.3" y2="1876.0" stroke="#444" stroke-width="1.1" stroke-dasharray="3.3 2.4"/>
<line x1="909.3" y1="1065.0" x2="909.3" y2="1776.3" stroke="#222" stroke-width="1.1" stroke-dasharray="3.3 2.4"/>
<line x1="909.3" y1="1842.0" x2="909.3" y2="1876.0" stroke="#444" stroke-width="1.1" stroke-dasharray="3.3 2.4"/>
<line x1="1077.7" y1="1001.0" x2="1077.7" y2="1876.0" stroke="#555" stroke-width="1.2"/>
<rect x="555.1" y="1307.9" width="56.1" height="16.5" fill="#ffffff"/>
<rect x="644.8" y="1419.7" width="59.2" height="16.5" fill="#ffffff"/>
<rect x="455.5" y="1414.1" width="43.3" height="16.5" fill="#ececec"/>
<rect x="921.0" y="1446.0" width="172.0" height="16.5" fill="#ffffff"/>
<rect x="75.5" y="1299.0" width="118.5" height="17.5" fill="#ffffff"/>
<line x1="20.0" y1="1065.0" x2="1077.7" y2="1065.0" stroke="#222" stroke-width="1.6"/>
<line x1="20.0" y1="1776.3" x2="1077.7" y2="1776.3" stroke="#222" stroke-width="1.6"/>
<line x1="66.3" y1="1324.0" x2="1077.7" y2="1324.0" stroke="#222" stroke-width="1.8"/>
<line x1="643.6" y1="1001.0" x2="643.6" y2="1842.0" stroke="#222" stroke-width="1.6"/>
<line x1="66.3" y1="1001.0" x2="66.3" y2="1876.0" stroke="#222" stroke-width="1.6"/>
<path d="M512.0 1163.3L519.5 1170.5L512.0 1177.7L504.5 1170.5Z" fill="#86888a" stroke="#111" stroke-width="1.3"/>
<path d="M603.5 1218.6L611.0 1225.8L603.5 1233.0L596.0 1225.8Z" fill="#ffffff" stroke="#111" stroke-width="1.3"/>
<path d="M454.7 1252.4L462.2 1259.6L454.7 1266.8L447.2 1259.6Z" fill="#86888a" stroke="#111" stroke-width="1.3"/>
<path d="M623.8 1264.6L631.3 1271.8L623.8 1279.0L616.3 1271.8Z" fill="#ffffff" stroke="#111" stroke-width="1.3"/>
<path d="M617.5 1263.6L625.0 1270.8L617.5 1278.0L610.0 1270.8Z" fill="#ffffff" stroke="#111" stroke-width="1.3"/>
<path d="M544.5 1271.8L552.0 1279.0L544.5 1286.2L537.0 1279.0Z" fill="#86888a" stroke="#111" stroke-width="1.3"/>
<path d="M551.9 1281.7L559.4 1288.9L551.9 1296.1L544.4 1288.9Z" fill="#86888a" stroke="#111" stroke-width="1.3"/>
<path d="M429.0 1290.1L436.5 1297.3L429.0 1304.5L421.5 1297.3Z" fill="#86888a" stroke="#111" stroke-width="1.3"/>
<path d="M391.2 1306.6L398.7 1313.8L391.2 1321.0L383.7 1313.8Z" fill="#86888a" stroke="#111" stroke-width="1.3"/>
<path d="M443.0 1311.4L450.5 1318.6L443.0 1325.8L435.5 1318.6Z" fill="#86888a" stroke="#111" stroke-width="1.3"/>
<path d="M542.0 1306.6L549.5 1313.8L542.0 1321.0L534.5 1313.8Z" fill="#86888a" stroke="#111" stroke-width="1.3"/>
<path d="M574.8 1292.3L582.3 1299.5L574.8 1306.7L567.3 1299.5Z" fill="#ffffff" stroke="#111" stroke-width="1.3"/>
<path d="M627.0 1291.6L634.5 1298.8L627.0 1306.0L619.5 1298.8Z" fill="#ffffff" stroke="#111" stroke-width="1.3"/>
<path d="M626.5 1311.5L634.0 1318.7L626.5 1325.9L619.0 1318.7Z" fill="#ffffff" stroke="#111" stroke-width="1.3"/>
<path d="M655.5 1274.8L663.0 1282.0L655.5 1289.2L648.0 1282.0Z" fill="#ffffff" stroke="#111" stroke-width="1.3"/>
<path d="M683.7 1271.5L691.2 1278.7L683.7 1285.9L676.2 1278.7Z" fill="#ffffff" stroke="#111" stroke-width="1.3"/>
<path d="M650.5 1289.1L658.0 1296.3L650.5 1303.5L643.0 1296.3Z" fill="#ffffff" stroke="#111" stroke-width="1.3"/>
<path d="M692.5 1303.6L700.0 1310.8L692.5 1318.0L685.0 1310.8Z" fill="#ffffff" stroke="#111" stroke-width="1.3"/>
<path d="M664.7 1310.3L672.2 1317.5L664.7 1324.7L657.2 1317.5Z" fill="#ffffff" stroke="#111" stroke-width="1.3"/>
<path d="M713.0 1236.6L720.5 1243.8L713.0 1251.0L705.5 1243.8Z" fill="#ffffff" stroke="#111" stroke-width="1.3"/>
<path d="M738.3 1204.3L745.8 1211.5L738.3 1218.7L730.8 1211.5Z" fill="#3a88cc" stroke="#111" stroke-width="1.3"/>
<path d="M740.0 1222.1L747.5 1229.3L740.0 1236.5L732.5 1229.3Z" fill="#3a88cc" stroke="#111" stroke-width="1.3"/>
<path d="M813.3 1213.8L820.8 1221.0L813.3 1228.2L805.8 1221.0Z" fill="#3a88cc" stroke="#111" stroke-width="1.3"/>
<path d="M782.3 1229.5L789.8 1236.7L782.3 1243.9L774.8 1236.7Z" fill="#3a88cc" stroke="#111" stroke-width="1.3"/>
<path d="M737.2 1257.8L744.7 1265.0L737.2 1272.2L729.7 1265.0Z" fill="#3a88cc" stroke="#111" stroke-width="1.3"/>
<path d="M722.4 1272.8L729.9 1280.0L722.4 1287.2L714.9 1280.0Z" fill="#3a88cc" stroke="#111" stroke-width="1.3"/>
<path d="M726.5 1290.2L734.0 1297.4L726.5 1304.6L719.0 1297.4Z" fill="#3a88cc" stroke="#111" stroke-width="1.3"/>
<path d="M801.0 1298.5L808.5 1305.7L801.0 1312.9L793.5 1305.7Z" fill="#3a88cc" stroke="#111" stroke-width="1.3"/>
<path d="M914.0 1240.1L921.5 1247.3L914.0 1254.5L906.5 1247.3Z" fill="#3a88cc" stroke="#111" stroke-width="1.3"/>
<path d="M1020.6 1227.8L1028.1 1235.0L1020.6 1242.2L1013.1 1235.0Z" fill="#3a88cc" stroke="#111" stroke-width="1.3"/>
<path d="M782.5 1317.8L790.0 1325.0L782.5 1332.2L775.0 1325.0Z" fill="#3a88cc" stroke="#111" stroke-width="1.3"/>
<path d="M851.2 1327.0L858.8 1334.2L851.2 1341.5L843.8 1334.2Z" fill="#3a88cc" stroke="#111" stroke-width="1.3"/>
<path d="M752.5 1341.5L760.0 1348.8L752.5 1356.0L745.0 1348.8Z" fill="#3a88cc" stroke="#111" stroke-width="1.3"/>
<path d="M911.7 1358.8L919.2 1366.0L911.7 1373.2L904.2 1366.0Z" fill="#3a88cc" stroke="#111" stroke-width="1.3"/>
<path d="M668.8 1353.3L676.2 1360.5L668.8 1367.7L661.2 1360.5Z" fill="#ffffff" stroke="#111" stroke-width="1.3"/>
<path d="M687.5 1353.3L695.0 1360.5L687.5 1367.7L680.0 1360.5Z" fill="#ffffff" stroke="#111" stroke-width="1.3"/>
<path d="M700.8 1374.0L708.2 1381.2L700.8 1388.5L693.2 1381.2Z" fill="#ffffff" stroke="#111" stroke-width="1.3"/>
<path d="M654.5 1402.3L662.0 1409.5L654.5 1416.7L647.0 1409.5Z" fill="#ffffff" stroke="#111" stroke-width="1.3"/>
<path d="M741.8 1473.5L749.2 1480.8L741.8 1488.0L734.2 1480.8Z" fill="#3a88cc" stroke="#111" stroke-width="1.3"/>
<path d="M687.5 1465.8L695.0 1473.0L687.5 1480.2L680.0 1473.0Z" fill="#ffffff" stroke="#111" stroke-width="1.3"/>
<path d="M774.2 1481.5L781.8 1488.8L774.2 1496.0L766.8 1488.8Z" fill="#3a88cc" stroke="#111" stroke-width="1.3"/>
<path d="M773.0 1470.8L780.5 1478.0L773.0 1485.2L765.5 1478.0Z" fill="#3a88cc" stroke="#111" stroke-width="1.3"/>
<path d="M708.8 1494.8L716.2 1502.0L708.8 1509.2L701.2 1502.0Z" fill="#ffffff" stroke="#111" stroke-width="1.3"/>
<path d="M703.8 1505.3L711.2 1512.5L703.8 1519.7L696.2 1512.5Z" fill="#ffffff" stroke="#111" stroke-width="1.3"/>
<path d="M761.8 1511.5L769.2 1518.8L761.8 1526.0L754.2 1518.8Z" fill="#3a88cc" stroke="#111" stroke-width="1.3"/>
<path d="M656.2 1530.1L663.8 1537.3L656.2 1544.5L648.8 1537.3Z" fill="#ffffff" stroke="#111" stroke-width="1.3"/>
<path d="M633.2 1525.0L640.7 1532.2L633.2 1539.4L625.7 1532.2Z" fill="#ffffff" stroke="#111" stroke-width="1.3"/>
<path d="M774.2 1564.5L781.8 1571.8L774.2 1579.0L766.8 1571.8Z" fill="#3a88cc" stroke="#111" stroke-width="1.3"/>
<path d="M750.8 1564.0L758.2 1571.2L750.8 1578.5L743.2 1571.2Z" fill="#ffffff" stroke="#111" stroke-width="1.3"/>
<path d="M846.2 1570.3L853.8 1577.5L846.2 1584.7L838.8 1577.5Z" fill="#3a88cc" stroke="#111" stroke-width="1.3"/>
<path d="M905.7 1583.1L913.2 1590.3L905.7 1597.5L898.2 1590.3Z" fill="#3a88cc" stroke="#111" stroke-width="1.3"/>
<path d="M1029.0 1589.6L1036.5 1596.8L1029.0 1604.0L1021.5 1596.8Z" fill="#3a88cc" stroke="#111" stroke-width="1.3"/>
<path d="M913.4 1445.1L920.9 1452.3L913.4 1459.5L905.9 1452.3Z" fill="#3a88cc" stroke="#111" stroke-width="1.3"/>
<path d="M928.6 1490.0L936.1 1497.2L928.6 1504.4L921.1 1497.2Z" fill="#3a88cc" stroke="#111" stroke-width="1.3"/>
<path d="M908.8 1505.6L916.3 1512.8L908.8 1520.0L901.3 1512.8Z" fill="#3a88cc" stroke="#111" stroke-width="1.3"/>
<path d="M641.1 1693.7L648.6 1700.9L641.1 1708.1L633.6 1700.9Z" fill="#ffffff" stroke="#111" stroke-width="1.3"/>
<path d="M376.2 1336.0L383.8 1343.2L376.2 1350.5L368.8 1343.2Z" fill="#86888a" stroke="#111" stroke-width="1.3"/>
<path d="M356.2 1350.3L363.8 1357.5L356.2 1364.7L348.8 1357.5Z" fill="#86888a" stroke="#111" stroke-width="1.3"/>
<path d="M213.0 1354.0L220.5 1361.2L213.0 1368.5L205.5 1361.2Z" fill="#86888a" stroke="#111" stroke-width="1.3"/>
<path d="M590.2 1378.8L597.7 1386.0L590.2 1393.2L582.7 1386.0Z" fill="#ffffff" stroke="#111" stroke-width="1.3"/>
<path d="M538.9 1387.9L546.4 1395.1L538.9 1402.3L531.4 1395.1Z" fill="#86888a" stroke="#111" stroke-width="1.3"/>
<path d="M507.8 1420.6L515.3 1427.8L507.8 1435.0L500.3 1427.8Z" fill="#86888a" stroke="#111" stroke-width="1.3"/>
<path d="M525.3 1423.6L532.8 1430.8L525.3 1438.0L517.8 1430.8Z" fill="#86888a" stroke="#111" stroke-width="1.3"/>
<path d="M535.1 1448.1L542.6 1455.3L535.1 1462.5L527.6 1455.3Z" fill="#86888a" stroke="#111" stroke-width="1.3"/>
<path d="M610.5 1449.8L618.0 1457.0L610.5 1464.2L603.0 1457.0Z" fill="#ffffff" stroke="#111" stroke-width="1.3"/>
<path d="M551.5 1485.5L559.0 1492.7L551.5 1499.9L544.0 1492.7Z" fill="#ffffff" stroke="#111" stroke-width="1.3"/>
<path d="M617.0 1494.8L624.5 1502.0L617.0 1509.2L609.5 1502.0Z" fill="#ffffff" stroke="#111" stroke-width="1.3"/>
<path d="M350.4 1539.8L357.9 1547.0L350.4 1554.2L342.9 1547.0Z" fill="#86888a" stroke="#111" stroke-width="1.3"/>
<line x1="614.0" y1="1204.0" x2="624.5" y2="1269.0" stroke="#111" stroke-width="1.1"/>
<line x1="456.5" y1="1238.7" x2="542.7" y2="1279.7" stroke="#111" stroke-width="1.1"/>
<line x1="542.7" y1="1247.8" x2="572.0" y2="1295.5" stroke="#111" stroke-width="1.1"/>
<line x1="363.0" y1="1282.7" x2="438.2" y2="1317.5" stroke="#111" stroke-width="1.1"/>
<line x1="536.0" y1="1296.0" x2="550.0" y2="1290.0" stroke="#111" stroke-width="1.1"/>
<line x1="610.8" y1="1311.3" x2="626.7" y2="1299.2" stroke="#111" stroke-width="1.1"/>
<line x1="780.0" y1="1200.7" x2="742.7" y2="1226.7" stroke="#111" stroke-width="1.1"/>
<line x1="758.3" y1="1272.7" x2="725.0" y2="1279.0" stroke="#111" stroke-width="1.1"/>
<line x1="671.2" y1="1363.8" x2="692.5" y2="1396.2" stroke="#111" stroke-width="1.1"/>
<line x1="691.2" y1="1362.0" x2="791.2" y2="1381.2" stroke="#111" stroke-width="1.1"/>
<line x1="762.5" y1="1458.8" x2="743.8" y2="1480.0" stroke="#111" stroke-width="1.1"/>
<line x1="479.8" y1="1453.5" x2="524.2" y2="1432.0" stroke="#111" stroke-width="1.1"/>
<line x1="588.3" y1="1526.5" x2="615.2" y2="1505.5" stroke="#111" stroke-width="1.1"/>
<text x="25.7" y="1062.0" fill="#111" font-size="18" textLength="31.2" lengthAdjust="spacingAndGlyphs">600</text>
<text x="25.7" y="1180.7" fill="#111" font-size="18" textLength="31.2" lengthAdjust="spacingAndGlyphs">550</text>
<text x="25.7" y="1299.3" fill="#111" font-size="18" textLength="31.2" lengthAdjust="spacingAndGlyphs">500</text>
<text x="25.7" y="1417.8" fill="#111" font-size="18" textLength="31.2" lengthAdjust="spacingAndGlyphs">450</text>
<text x="25.7" y="1536.3" fill="#111" font-size="18" textLength="31.2" lengthAdjust="spacingAndGlyphs">400</text>
<text x="25.7" y="1655.0" fill="#111" font-size="18" textLength="31.2" lengthAdjust="spacingAndGlyphs">350</text>
<text x="25.7" y="1773.3" fill="#111" font-size="18" textLength="31.2" lengthAdjust="spacingAndGlyphs">300</text>
<text x="55.8" y="1897.0" fill="#111" font-size="18" textLength="21.0" lengthAdjust="spacingAndGlyphs">30</text>
<text x="224.0" y="1897.0" fill="#111" font-size="18" textLength="21.0" lengthAdjust="spacingAndGlyphs">25</text>
<text x="392.8" y="1897.0" fill="#111" font-size="18" textLength="21.0" lengthAdjust="spacingAndGlyphs">20</text>
<text x="561.5" y="1897.0" fill="#111" font-size="18" textLength="21.0" lengthAdjust="spacingAndGlyphs">15</text>
<text x="729.8" y="1897.0" fill="#111" font-size="18" textLength="21.0" lengthAdjust="spacingAndGlyphs">10</text>
<text x="904.0" y="1897.0" fill="#111" font-size="18" textLength="10.5" lengthAdjust="spacingAndGlyphs">5</text>
<text x="1072.5" y="1897.0" fill="#111" font-size="18" textLength="10.5" lengthAdjust="spacingAndGlyphs">0</text>
<text x="23.0" y="976.7" fill="#111" font-size="15" textLength="39.7" lengthAdjust="spacingAndGlyphs">Mean</text>
<text x="16.0" y="993.3" fill="#111" font-size="15" textLength="53.0" lengthAdjust="spacingAndGlyphs">science</text>
<text x="24.3" y="1009.3" fill="#111" font-size="15" textLength="38.0" lengthAdjust="spacingAndGlyphs">score</text>
<text x="814.0" y="1915.0" fill="#111" font-size="16" textLength="274.3" lengthAdjust="spacingAndGlyphs">Percentage of variation in performance</text>
<text x="832.3" y="1934.3" fill="#111" font-size="16" textLength="256.0" lengthAdjust="spacingAndGlyphs">explained by social-economic status</text>
<text x="1095.7" y="1856.7" fill="#1a6cb8" font-size="15" font-weight="bold" textLength="102.6" lengthAdjust="spacingAndGlyphs">Greater Equity</text>
<text y="1030.5" fill="#fff" font-size="21"><tspan x="173.0" font-weight="bold" stroke="#fff" stroke-width="0.45" textLength="148.7" lengthAdjust="spacingAndGlyphs">Above-average</tspan><tspan x="327.7" font-weight="normal" stroke="#fff" stroke-width="0.7" textLength="202.8" lengthAdjust="spacingAndGlyphs">science performance</tspan></text>
<text y="1054.8" fill="#fff" font-size="21"><tspan x="181.4" font-weight="bold" stroke="#fff" stroke-width="0.45" textLength="145.0" lengthAdjust="spacingAndGlyphs">Below-average</tspan><tspan x="332.4" font-weight="normal" stroke="#fff" stroke-width="0.7" textLength="189.0" lengthAdjust="spacingAndGlyphs">equity in education</tspan></text>
<text y="1031.0" fill="#fff" font-size="21"><tspan x="679.3" font-weight="bold" stroke="#fff" stroke-width="0.45" textLength="148.7" lengthAdjust="spacingAndGlyphs">Above-average</tspan><tspan x="834.0" font-weight="normal" stroke="#fff" stroke-width="0.7" textLength="202.0" lengthAdjust="spacingAndGlyphs">science performance</tspan></text>
<text y="1055.5" fill="#fff" font-size="21"><tspan x="686.0" font-weight="bold" stroke="#fff" stroke-width="0.45" textLength="148.7" lengthAdjust="spacingAndGlyphs">Above-average</tspan><tspan x="840.7" font-weight="normal" stroke="#fff" stroke-width="0.7" textLength="188.7" lengthAdjust="spacingAndGlyphs">equity in education</tspan></text>
<text y="1805.5" fill="#fff" font-size="21"><tspan x="175.3" font-weight="bold" stroke="#fff" stroke-width="0.45" textLength="145.0" lengthAdjust="spacingAndGlyphs">Below-average</tspan><tspan x="326.3" font-weight="normal" stroke="#fff" stroke-width="0.7" textLength="203.0" lengthAdjust="spacingAndGlyphs">science performance</tspan></text>
<text y="1830.5" fill="#fff" font-size="21"><tspan x="187.0" font-weight="bold" stroke="#fff" stroke-width="0.45" textLength="145.0" lengthAdjust="spacingAndGlyphs">Below-average</tspan><tspan x="338.0" font-weight="normal" stroke="#fff" stroke-width="0.7" textLength="185.8" lengthAdjust="spacingAndGlyphs">equity in education</tspan></text>
<text y="1805.5" fill="#fff" font-size="21"><tspan x="680.5" font-weight="bold" stroke="#fff" stroke-width="0.45" textLength="145.0" lengthAdjust="spacingAndGlyphs">Below-average</tspan><tspan x="831.5" font-weight="normal" stroke="#fff" stroke-width="0.7" textLength="203.9" lengthAdjust="spacingAndGlyphs">science performance</tspan></text>
<text y="1830.5" fill="#fff" font-size="21"><tspan x="686.0" font-weight="bold" stroke="#fff" stroke-width="0.45" textLength="148.7" lengthAdjust="spacingAndGlyphs">Above-average</tspan><tspan x="840.7" font-weight="normal" stroke="#fff" stroke-width="0.7" textLength="188.3" lengthAdjust="spacingAndGlyphs">equity in education</tspan></text>
<text x="247.0" y="1090.0" fill="#222" font-size="17.5" font-weight="bold" textLength="86.0" lengthAdjust="spacingAndGlyphs">1. Australia</text>
<text x="247.0" y="1111.2" fill="#222" font-size="17.5" font-weight="bold" textLength="73.5" lengthAdjust="spacingAndGlyphs">2. Ireland</text>
<text x="247.0" y="1132.5" fill="#222" font-size="17.5" font-weight="bold" textLength="114.2" lengthAdjust="spacingAndGlyphs">3. Netherlands</text>
<text x="247.0" y="1153.7" fill="#222" font-size="17.5" font-weight="bold" textLength="123.0" lengthAdjust="spacingAndGlyphs">4. New Zealand</text>
<text x="247.0" y="1175.0" fill="#222" font-size="17.5" font-weight="bold" textLength="123.5" lengthAdjust="spacingAndGlyphs">5. United States</text>
<text x="469.5" y="1153.9" fill="#1a6cb8" font-size="17.5" font-weight="bold" textLength="78.8" lengthAdjust="spacingAndGlyphs">Singapore</text>
<text x="567.5" y="1199.6" fill="#1b1b1b" font-size="17.5" font-weight="bold" textLength="65.8" lengthAdjust="spacingAndGlyphs">Slovenia</text>
<text x="480.4" y="1224.9" fill="#1a6cb8" font-size="17.5" font-weight="bold" textLength="114.7" lengthAdjust="spacingAndGlyphs">Chinese Taipei</text>
<text x="383.5" y="1238.7" fill="#1b1b1b" font-size="17.5" font-weight="bold" textLength="71.5" lengthAdjust="spacingAndGlyphs">Germany</text>
<text x="488.8" y="1246.9" fill="#1b1b1b" font-size="17.5" font-weight="bold" textLength="64.2" lengthAdjust="spacingAndGlyphs">Portugal</text>
<text x="323.8" y="1258.7" fill="#1a6cb8" font-size="17.5" font-weight="bold" textLength="120.7" lengthAdjust="spacingAndGlyphs">B-S-J-G (China)</text>
<text x="597.5" y="1277.2" fill="#1b1b1b" font-size="16.5" font-weight="bold">4</text>
<text x="237.6" y="1283.6" fill="#1b1b1b" font-size="17.5" font-weight="bold" textLength="122.8" lengthAdjust="spacingAndGlyphs">Czech Republic</text>
<text x="383.9" y="1285.4" fill="#1b1b1b" font-size="17.5" font-weight="bold" textLength="62.7" lengthAdjust="spacingAndGlyphs">Belgium</text>
<text x="444.4" y="1300.1" fill="#1b1b1b" font-size="17.5" font-weight="bold" textLength="91.7" lengthAdjust="spacingAndGlyphs">Switzerland</text>
<text x="330.0" y="1311.8" fill="#1b1b1b" font-size="17.5" font-weight="bold" textLength="52.1" lengthAdjust="spacingAndGlyphs">France</text>
<text x="476.7" y="1319.5" fill="#1b1b1b" font-size="17.5" font-weight="bold" textLength="54.3" lengthAdjust="spacingAndGlyphs">Austria</text>
<text x="556.6" y="1320.9" fill="#1b1b1b" font-size="17.5" font-weight="bold" textLength="53.1" lengthAdjust="spacingAndGlyphs">Poland</text>
<text x="660.8" y="1278.3" fill="#1b1b1b" font-size="16.5" font-weight="bold">3</text>
<text x="692.2" y="1282.3" fill="#1b1b1b" font-size="16.5" font-weight="bold">1</text>
<text x="660.2" y="1303.7" fill="#1b1b1b" font-size="16.5" font-weight="bold">2</text>
<text x="703.2" y="1318.3" fill="#1b1b1b" font-size="16.5" font-weight="bold">5</text>
<text x="652.5" y="1233.4" fill="#1a6cb8" font-size="17.5" font-weight="bold" textLength="72.5" lengthAdjust="spacingAndGlyphs">Viet Nam</text>
<text x="716.0" y="1199.2" fill="#1b1b1b" font-size="17.5" font-weight="bold" textLength="44.0" lengthAdjust="spacingAndGlyphs">Japan</text>
<text x="784.3" y="1204.9" fill="#1b1b1b" font-size="17.5" font-weight="bold" textLength="56.4" lengthAdjust="spacingAndGlyphs">Finland</text>
<text x="824.0" y="1226.6" fill="#1b1b1b" font-size="17.5" font-weight="bold" textLength="55.0" lengthAdjust="spacingAndGlyphs">Estonia</text>
<text x="793.3" y="1245.9" fill="#1b1b1b" font-size="17.5" font-weight="bold" textLength="58.4" lengthAdjust="spacingAndGlyphs">Canada</text>
<text x="742.7" y="1258.2" fill="#1b1b1b" font-size="17.5" font-weight="bold" textLength="45.0" lengthAdjust="spacingAndGlyphs">Korea</text>
<text x="760.0" y="1275.9" fill="#1b1b1b" font-size="17.5" font-weight="bold" textLength="128.3" lengthAdjust="spacingAndGlyphs">United Kingdom</text>
<text x="734.3" y="1296.9" fill="#1b1b1b" font-size="17.5" font-weight="bold" textLength="72.4" lengthAdjust="spacingAndGlyphs">Denmark</text>
<text x="813.3" y="1312.6" fill="#1b1b1b" font-size="17.5" font-weight="bold" textLength="60.7" lengthAdjust="spacingAndGlyphs">Norway</text>
<text x="916.7" y="1270.9" fill="#1a6cb8" font-size="17.5" font-weight="bold" textLength="150.0" lengthAdjust="spacingAndGlyphs">Hong Kong (China)</text>
<text x="992.7" y="1204.2" fill="#1a6cb8" font-size="17.5" font-weight="bold" textLength="51.3" lengthAdjust="spacingAndGlyphs">Macao</text>
<text x="990.0" y="1221.9" fill="#1a6cb8" font-size="17.5" font-weight="bold" textLength="56.7" lengthAdjust="spacingAndGlyphs">(China)</text>
<text x="591.8" y="1344.2" fill="#1b1b1b" font-size="17.5" font-weight="bold" textLength="42.7" lengthAdjust="spacingAndGlyphs">Spain</text>
<text x="649.2" y="1342.2" fill="#1b1b1b" font-size="17.5" font-weight="bold" textLength="62.0" lengthAdjust="spacingAndGlyphs">Sweden</text>
<text x="788.0" y="1345.2" fill="#1b1b1b" font-size="17.5" font-weight="bold" textLength="44.0" lengthAdjust="spacingAndGlyphs">Latvia</text>
<text x="863.2" y="1341.4" fill="#1a6cb8" font-size="17.5" font-weight="bold" textLength="48.0" lengthAdjust="spacingAndGlyphs">Russia</text>
<text x="762.0" y="1362.2" fill="#1b1b1b" font-size="17.5" font-weight="bold" textLength="31.8" lengthAdjust="spacingAndGlyphs">Italy</text>
<text x="923.5" y="1372.2" fill="#1b1b1b" font-size="17.5" font-weight="bold" textLength="56.4" lengthAdjust="spacingAndGlyphs">Iceland</text>
<text x="712.5" y="1389.7" fill="#1b1b1b" font-size="17.5" font-weight="bold" textLength="41.2" lengthAdjust="spacingAndGlyphs">Israel</text>
<text x="793.8" y="1388.4" fill="#1a6cb8" font-size="17.5" font-weight="bold" textLength="71.2" lengthAdjust="spacingAndGlyphs">Lithuania</text>
<text x="690.0" y="1412.2" fill="#1a6cb8" font-size="17.5" font-weight="bold" textLength="56.8" lengthAdjust="spacingAndGlyphs">Croatia</text>
<text x="646.2" y="1432.7" fill="#1b1b1b" font-size="17.5" font-weight="bold" textLength="56.2" lengthAdjust="spacingAndGlyphs">Greece</text>
<text x="767.0" y="1439.7" fill="#1a6cb8" font-size="17.5" font-weight="bold" textLength="64.2" lengthAdjust="spacingAndGlyphs">Trinidad</text>
<text x="752.5" y="1456.7" fill="#1a6cb8" font-size="17.5" font-weight="bold" textLength="93.0" lengthAdjust="spacingAndGlyphs">and Tobago</text>
<text x="652.5" y="1462.9" fill="#1a6cb8" font-size="17.5" font-weight="bold" textLength="68.8" lengthAdjust="spacingAndGlyphs">Moldova</text>
<text x="780.8" y="1478.4" fill="#1b1b1b" font-size="17.5" font-weight="bold" textLength="53.8" lengthAdjust="spacingAndGlyphs">Turkey</text>
<text x="785.0" y="1494.7" fill="#1a6cb8" font-size="17.5" font-weight="bold" textLength="66.2" lengthAdjust="spacingAndGlyphs">Thailand</text>
<text x="646.8" y="1498.4" fill="#1b1b1b" font-size="17.5" font-weight="bold" textLength="57.0" lengthAdjust="spacingAndGlyphs">Mexico</text>
<text x="674.5" y="1532.2" fill="#1a6cb8" font-size="17.5" font-weight="bold" textLength="61.0" lengthAdjust="spacingAndGlyphs">Georgia</text>
<text x="773.2" y="1525.9" fill="#1a6cb8" font-size="17.5" font-weight="bold" textLength="51.2" lengthAdjust="spacingAndGlyphs">Jordan</text>
<text x="648.8" y="1563.4" fill="#1a6cb8" font-size="17.5" font-weight="bold" textLength="42.5" lengthAdjust="spacingAndGlyphs">Brazil</text>
<text x="767.0" y="1562.2" fill="#1a6cb8" font-size="17.5" font-weight="bold" textLength="54.2" lengthAdjust="spacingAndGlyphs">Tunisia</text>
<text x="697.0" y="1592.9" fill="#1a6cb8" font-size="17.5" font-weight="bold" textLength="66.8" lengthAdjust="spacingAndGlyphs">Lebanon</text>
<text x="817.0" y="1603.4" fill="#1a6cb8" font-size="17.5" font-weight="bold" textLength="60.0" lengthAdjust="spacingAndGlyphs">FYROM</text>
<text x="941.0" y="1503.2" fill="#1a6cb8" font-size="17.5" font-weight="bold" textLength="44.4" lengthAdjust="spacingAndGlyphs">Qatar</text>
<text x="919.4" y="1525.2" fill="#1a6cb8" font-size="17.5" font-weight="bold" textLength="97.2" lengthAdjust="spacingAndGlyphs">Montenegro</text>
<text x="917.2" y="1596.2" fill="#1a6cb8" font-size="17.5" font-weight="bold" textLength="57.8" lengthAdjust="spacingAndGlyphs">Kosovo</text>
<text x="1000.0" y="1623.7" fill="#1a6cb8" font-size="17.5" font-weight="bold" textLength="54.2" lengthAdjust="spacingAndGlyphs">Algeria</text>
<text x="654.2" y="1707.7" fill="#1a6cb8" font-size="17.5" font-weight="bold" textLength="160.2" lengthAdjust="spacingAndGlyphs">Dominican Republic</text>
<text x="268.8" y="1342.7" fill="#1b1b1b" font-size="17.5" font-weight="bold" textLength="98.8" lengthAdjust="spacingAndGlyphs">Luxembourg</text>
<text x="278.8" y="1362.2" fill="#1b1b1b" font-size="17.5" font-weight="bold" textLength="66.2" lengthAdjust="spacingAndGlyphs">Hungary</text>
<text x="142.5" y="1387.9" fill="#1a6cb8" font-size="17.5" font-weight="bold" textLength="136.8" lengthAdjust="spacingAndGlyphs">CABA (Argentina)</text>
<text x="567.3" y="1371.1" fill="#1a6cb8" font-size="17.5" font-weight="bold" textLength="43.2" lengthAdjust="spacingAndGlyphs">Malta</text>
<text x="405.9" y="1390.9" fill="#1b1b1b" font-size="17.5" font-weight="bold" textLength="126.0" lengthAdjust="spacingAndGlyphs">Slovak Republic</text>
<text x="457.0" y="1427.1" fill="#1b1b1b" font-size="17.5" font-weight="bold" textLength="40.3" lengthAdjust="spacingAndGlyphs">Chile</text>
<text x="416.8" y="1460.9" fill="#1a6cb8" font-size="17.5" font-weight="bold" textLength="61.9" lengthAdjust="spacingAndGlyphs">Bulgaria</text>
<text x="496.2" y="1476.1" fill="#1a6cb8" font-size="17.5" font-weight="bold" textLength="65.3" lengthAdjust="spacingAndGlyphs">Uruguay</text>
<text x="563.8" y="1443.4" fill="#1a6cb8" font-size="17.5" font-weight="bold" textLength="68.4" lengthAdjust="spacingAndGlyphs">Romania</text>
<text x="454.9" y="1498.2" fill="#1a6cb8" font-size="17.5" font-weight="bold" textLength="82.1" lengthAdjust="spacingAndGlyphs">Costa Rica</text>
<text x="508.5" y="1533.7" fill="#1a6cb8" font-size="17.5" font-weight="bold" textLength="76.3" lengthAdjust="spacingAndGlyphs">Colombia</text>
<text x="554.5" y="1558.9" fill="#1a6cb8" font-size="17.5" font-weight="bold" textLength="75.8" lengthAdjust="spacingAndGlyphs">Indonesia</text>
<text x="330.2" y="1570.4" fill="#1a6cb8" font-size="17.5" font-weight="bold" textLength="36.0" lengthAdjust="spacingAndGlyphs">Peru</text>
<text x="924.5" y="1459.2" fill="#1a6cb8" font-size="17.5" font-weight="bold" textLength="166.3" lengthAdjust="spacingAndGlyphs">United Arab Emirates</text>
<text x="76.7" y="1312.8" fill="#1b1b1b" font-size="17.5" font-weight="bold" textLength="114.1" lengthAdjust="spacingAndGlyphs">OECD average</text>
<text x="0" y="0" transform="translate(663,1188.7) rotate(-90)" fill="#111" font-size="17.5" font-weight="bold" textLength="113.2" lengthAdjust="spacingAndGlyphs">OECD average</text>
</svg>
</body></html>
